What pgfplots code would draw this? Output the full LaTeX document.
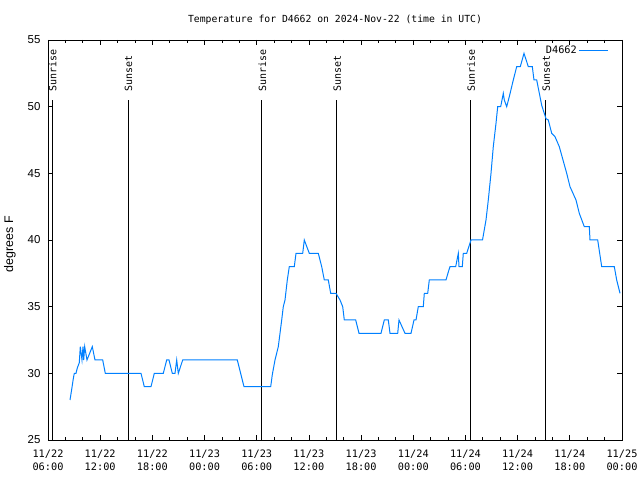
\documentclass[border=0pt]{standalone}
\usepackage{fontspec}
\setmainfont{Liberation Sans}
\newfontfamily\mono{DejaVu Sans Mono}
\usepackage{pgfplots}
\pgfplotsset{compat=1.18}
\definecolor{lc}{RGB}{0,128,255}
\begin{document}
\begin{tikzpicture}
\begin{axis}[
  scale only axis, width=574bp, height=400bp,
  xmin=0, xmax=66, ymin=25, ymax=55,
  xtick={0,6,...,66}, minor x tick num=2,
  xticklabels={{11/22\\06:00},{11/22\\12:00},{11/22\\18:00},{11/23\\00:00},{11/23\\06:00},{11/23\\12:00},{11/23\\18:00},{11/24\\00:00},{11/24\\06:00},{11/24\\12:00},{11/24\\18:00},{11/25\\00:00}},
  xticklabel style={font=\mono\fontsize{10.3}{13}\selectfont, align=center, yshift=-6bp},
  ytick={25,30,...,55},
  yticklabel style={font=\fontsize{11.5}{13}\selectfont, xshift=-4bp},
  /pgf/number format/assume math mode=true,
  tick align=inside, major tick length=5bp, minor tick length=3bp,
  axis line style={line width=0.8bp},
  tick style={black, line width=0.8bp},
  title={Temperature for D4662 on 2024-Nov-22 (time in UTC)},
  every axis title/.style={at={(0.5,1)}, anchor=center, yshift=20bp, font=\mono\fontsize{9.8}{12}\selectfont},
  ylabel={degrees F},
  every axis y label/.style={at={(axis description cs:-0.0662,0.49)}, rotate=90, anchor=center, font=\fontsize{12.5}{14}\selectfont},
  legend style={draw=none, fill=none, at={(1,1)}, anchor=north east, xshift=-10bp, yshift=-2bp, font=\mono\fontsize{10.3}{12}\selectfont},
  legend plot pos=right, legend cell align=right,
  legend image code/.code={\draw[#1] (0bp,0bp) -- (29bp,0bp);},
]
\coordinate (LL) at (rel axis cs:0,0);
\coordinate (UR) at (rel axis cs:1,1);
\addplot[black, line width=1bp, forget plot] coordinates {(0.5,25) (0.5,50.5)};
\addplot[black, line width=1bp, forget plot] coordinates {(9.2,25) (9.2,50.5)};
\addplot[black, line width=1bp, forget plot] coordinates {(24.6,25) (24.6,50.5)};
\addplot[black, line width=1bp, forget plot] coordinates {(33.2,25) (33.2,50.5)};
\addplot[black, line width=1bp, forget plot] coordinates {(48.6,25) (48.6,50.5)};
\addplot[black, line width=1bp, forget plot] coordinates {(57.25,25) (57.25,50.5)};
\node[rotate=90, anchor=west, inner sep=0pt, font=\mono\fontsize{10}{12}\selectfont] at (axis cs:0.55,51.1) {Sunrise};
\node[rotate=90, anchor=west, inner sep=0pt, font=\mono\fontsize{10}{12}\selectfont] at (axis cs:9.25,51.1) {Sunset};
\node[rotate=90, anchor=west, inner sep=0pt, font=\mono\fontsize{10}{12}\selectfont] at (axis cs:24.65,51.1) {Sunrise};
\node[rotate=90, anchor=west, inner sep=0pt, font=\mono\fontsize{10}{12}\selectfont] at (axis cs:33.25,51.1) {Sunset};
\node[rotate=90, anchor=west, inner sep=0pt, font=\mono\fontsize{10}{12}\selectfont] at (axis cs:48.65,51.1) {Sunrise};
\node[rotate=90, anchor=west, inner sep=0pt, font=\mono\fontsize{10}{12}\selectfont] at (axis cs:57.3,51.1) {Sunset};
\addplot[lc, line width=1bp] coordinates {
(2.530,28) (2.725,28.8) (2.909,29.6) (3.024,30) (3.220,30) (3.369,30.4) (3.599,30.8) (3.714,32)
(3.909,31) (4.024,32) (4.105,31) (4.220,32) (4.484,31) (5.094,32) (5.404,31) (6.290,31) (6.588,30)
(10.693,30) (11.073,29) (11.843,29) (12.223,30) (13.257,30) (13.648,31) (13.913,31) (14.292,30)
(14.603,30) (14.798,31) (14.982,30) (15.488,31) (21.766,31) (22.536,29) (25.607,29) (25.791,29.9)
(26.101,31) (26.481,32) (26.676,33) (26.871,34) (27.055,35) (27.251,35.5) (27.515,37) (27.745,38)
(28.320,38) (28.516,39) (29.286,39) (29.470,40) (30.045,39) (31.080,39) (31.471,38) (31.770,37)
(32.230,37) (32.505,36) (33.115,36) (33.575,35.5) (33.885,35) (34.069,34) (35.380,34) (35.760,33)
(38.289,33) (38.669,34) (39.129,34) (39.324,33) (40.209,33) (40.359,34) (41.049,33) (41.739,33)
(42.084,34) (42.314,34) (42.578,35) (43.153,35) (43.268,36) (43.659,36) (43.843,37) (45.763,37)
(46.028,37.6) (46.223,38) (46.878,38) (47.177,39) (47.258,38) (47.637,38) (47.752,39) (48.143,39)
(48.637,40) (49.960,40) (50.362,41.5) (50.627,43) (50.937,45) (51.201,47) (51.512,48.75) (51.707,50)
(52.052,50) (52.351,51) (52.466,50.5) (52.742,50) (53.041,50.75) (53.501,52) (53.892,53) (54.306,53)
(54.731,54) (55.226,53) (55.686,53) (55.881,52) (56.192,52) (56.767,50.1) (57.261,49.1) (57.526,49)
(57.917,48) (58.296,47.75) (58.790,47) (59.641,45) (60.021,44) (60.710,43) (61.090,42) (61.665,41)
(62.240,41) (62.320,40) (63.206,40) (63.666,38) (65.114,38) (65.390,37) (65.770,36)
};
\addlegendentry{D4662}
\end{axis}
\pgfresetboundingbox
\path ([xshift=-48bp,yshift=-40bp]LL) rectangle ([xshift=18bp,yshift=40bp]UR);
\end{tikzpicture}
\end{document}
